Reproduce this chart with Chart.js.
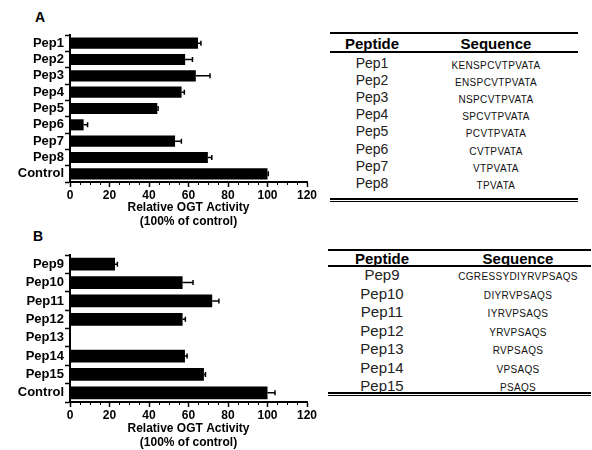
<!DOCTYPE html>
<html>
<head>
<meta charset="utf-8">
<script src="https://cdn.jsdelivr.net/npm/chart.js"></script>
<style>
  body { margin: 0; background: #fff; width: 592px; height: 450px; position: relative; overflow: hidden;
         font-family: "Liberation Sans", Arial, sans-serif; }
  .box { position: absolute; }
  .panel { position: absolute; font-weight: bold; font-size: 14px; color: #000; }
  .tline { position: absolute; background: #000; }
  .cell { position: absolute; transform: translate(-50%, -50%); white-space: nowrap; color: #000; }
  .hdr { font-weight: bold; font-size: 15px; }
  .pep { font-size: 14px; color: #222; }
  .seq { font-size: 10px; letter-spacing: 0.35px; color: #111; }
</style>
</head>
<body>
<div class="panel" style="left:35px;top:9px">A</div>
<div class="panel" style="left:33px;top:228px">B</div>
<div class="box" style="left:0;top:0;width:320px;height:229px"><canvas id="chartA"></canvas></div>
<div class="box" style="left:0;top:220px;width:320px;height:230px"><canvas id="chartB"></canvas></div>
<div id="tables"></div>
<script>
// panel A
const labelsA = ['Pep1', 'Pep2', 'Pep3', 'Pep4', 'Pep5', 'Pep6', 'Pep7', 'Pep8', 'Control'];
const valuesA = [64.8, 58.3, 63.7, 56.5, 44.2, 6.9, 53.2, 69.8, 100];
const errorsA = [1.5, 3.7, 7.2, 1.4, 0.4, 2.0, 3.2, 2.0, 0.4];
const seqA = ['KENSPCVTPVATA', 'ENSPCVTPVATA', 'NSPCVTPVATA', 'SPCVTPVATA', 'PCVTPVATA', 'CVTPVATA', 'VTPVATA', 'TPVATA'];

// panel B
const labelsB = ['Pep9', 'Pep10', 'Pep11', 'Pep12', 'Pep13', 'Pep14', 'Pep15', 'Control'];
const valuesB = [22.8, 57.0, 72.0, 57.0, 0, 58.2, 67.8, 100];
const errorsB = [1.2, 5.3, 3.4, 1.4, 0, 1.1, 0.8, 3.8];
const seqB = ['CGRESSYDIYRVPSAQS', 'DIYRVPSAQS', 'IYRVPSAQS', 'YRVPSAQS', 'RVPSAQS', 'VPSAQS', 'PSAQS'];

const xTicks = [0, 20, 40, 60, 80, 100, 120];
const axisTitle = ['Relative OGT Activity', '(100% of control)'];

const FONT = '"Liberation Sans", Arial, sans-serif';

// error bars + minor ticks, positioned through the scales
const extras = {
    id: 'extras',
    afterDatasetsDraw(chart, args, opts) {
        const ctx = chart.ctx;
        const x = chart.scales.x, y = chart.scales.y;
        ctx.save();
        ctx.strokeStyle = '#000';
        ctx.lineWidth = 1.5;
        chart.data.datasets[0].data.forEach((v, i) => {
            const e = opts.errors[i];
            if (!v && !e) return;
            const x0 = x.getPixelForValue(v), x1 = x.getPixelForValue(v + e);
            const yc = y.getPixelForValue(i);
            ctx.beginPath();
            ctx.moveTo(x0, yc); ctx.lineTo(x1, yc);
            ctx.moveTo(x1, yc - 2.5); ctx.lineTo(x1, yc + 2.5);
            ctx.stroke();
        });
        // minor ticks every 5
        ctx.lineWidth = 1;
        ctx.beginPath();
        for (let v = 5; v < 120; v += 5) {
            if (v % 20 === 0) continue;
            const px = Math.round(x.getPixelForValue(v)) + 0.5;
            ctx.moveTo(px, x.top); ctx.lineTo(px, x.top + 3);
        }
        ctx.stroke();
        ctx.restore();
    }
};

function makeChart(id, labels, values, errors, barPct) {
    new Chart(document.getElementById(id), {
        type: 'bar',
        data: {
            labels: labels,
            datasets: [{
                data: values,
                backgroundColor: '#000',
                borderWidth: 0,
                categoryPercentage: 1,
                barPercentage: barPct
            }]
        },
        plugins: [extras],
        options: {
            indexAxis: 'y',
            responsive: true,
            maintainAspectRatio: false,
            animation: false,
            layout: { padding: { top: 35, right: 13, left: 0, bottom: 0 } },
            plugins: {
                legend: { display: false },
                tooltip: { enabled: false },
                extras: { errors: errors }
            },
            scales: {
                x: {
                    min: 0, max: 120,
                    afterBuildTicks: s => { s.ticks = xTicks.map(v => ({ value: v })); },
                    afterFit: s => { s.height = s.chart.height - 35 - 147; },
                    border: { display: true, color: '#000', width: 2 },
                    grid: { drawOnChartArea: false, color: '#000', tickLength: 5, tickWidth: 1.5 },
                    ticks: { color: '#000', padding: 1, font: { family: FONT, size: 12, weight: 'bold' } },
                    title: {
                        display: true, text: axisTitle, color: '#000',
                        padding: { top: 0, bottom: 0 },
                        font: { family: FONT, size: 12, weight: 'bold', lineHeight: 1.17 }
                    }
                },
                y: {
                    afterFit: s => { s.width = 70; },
                    border: { display: true, color: '#000', width: 2 },
                    grid: { drawOnChartArea: false, color: '#000', tickLength: 5, tickWidth: 1.5 },
                    ticks: { color: '#000', padding: 1, autoSkip: false, font: { family: FONT, size: 13, weight: 'bold' } }
                }
            }
        }
    });
}

makeChart('chartA', labelsA, valuesA, errorsA, 0.68);
makeChart('chartB', labelsB, valuesB, errorsB, 0.7);

// tables
function makeTable(t) {
    const root = document.getElementById('tables');
    const add = (cls, style, text) => {
        const d = document.createElement('div');
        d.className = cls; d.style.cssText = style;
        if (text !== undefined) d.textContent = text;
        root.appendChild(d);
    };
    const w = t.x1 - t.x0;
    add('tline', `left:${t.x0}px;top:${t.top}px;width:${w}px;height:2px`);
    add('cell hdr', `left:${t.c1}px;top:${t.hy}px`, 'Peptide');
    add('cell hdr', `left:${t.c2}px;top:${t.hy}px`, 'Sequence');
    add('tline', `left:${t.x0}px;top:${t.mid}px;width:${w}px;height:2px`);
    t.peps.forEach((p, i) => {
        const yy = t.r0 + i * t.dr;
        add('cell pep', `left:${t.c1}px;top:${yy}px;font-size:${t.pf}px`, p);
        add('cell seq', `left:${t.c2}px;top:${yy + 2}px`, t.seqs[i]);
    });
    add('tline', `left:${t.x0}px;top:${t.bot}px;width:${w}px;height:1.5px`);
    add('tline', `left:${t.x0}px;top:${t.bot + 2.5}px;width:${w}px;height:1px`);
}

makeTable({ x0: 330, x1: 578, top: 32, hy: 43, mid: 51, c1: 372, c2: 496, r0: 63, dr: 17.1, pf: 14,
            bot: 198, peps: labelsA.slice(0, 8), seqs: seqA });
makeTable({ x0: 328, x1: 591, top: 249, hy: 258, mid: 265, c1: 382, c2: 518, r0: 274, dr: 18.5, pf: 15,
            bot: 392, peps: labelsB.slice(0, 7), seqs: seqB });
</script>
</body>
</html>
